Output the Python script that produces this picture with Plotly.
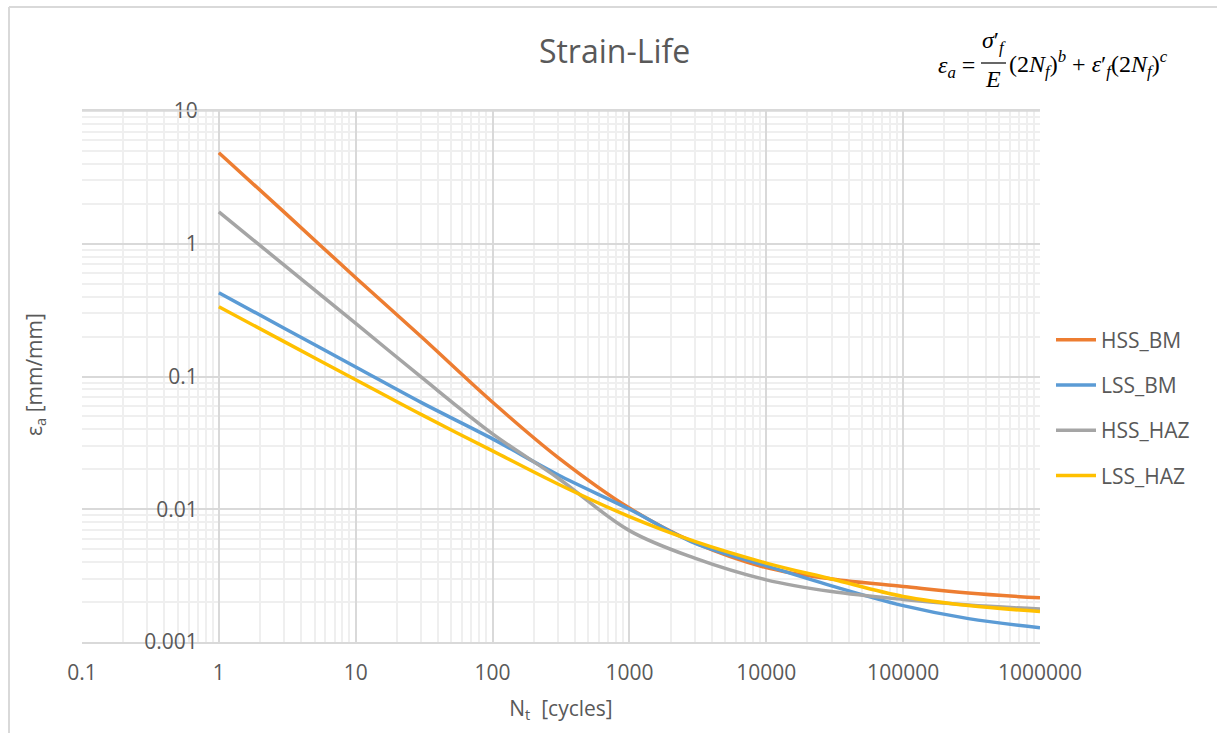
import plotly.graph_objects as go

# ---- data ----
cycles = [1, 3, 10, 30, 100, 300, 1000, 3000, 10000, 30000, 100000, 300000, 1000000]
hss_bm = [4.85, 1.73, 0.555, 0.20, 0.064, 0.0246, 0.0102, 0.0056, 0.00363, 0.00298, 0.00262, 0.00234, 0.00215]
lss_bm = [0.428, 0.231, 0.118, 0.0638, 0.0339, 0.0182, 0.0100, 0.00556, 0.00375, 0.00265, 0.00188, 0.0015, 0.00128]
hss_haz = [1.74, 0.69, 0.251, 0.0993, 0.037, 0.0172, 0.0069, 0.00428, 0.00294, 0.0024, 0.00209, 0.0019, 0.00177]
lss_haz = [0.335, 0.183, 0.0946, 0.0518, 0.0275, 0.0155, 0.0088, 0.00572, 0.00393, 0.00298, 0.0022, 0.00188, 0.0017]

series_names = ["HSS_BM", "LSS_BM", "HSS_HAZ", "LSS_HAZ"]
series_values = [hss_bm, lss_bm, hss_haz, lss_haz]
series_colors = ["#ED7D31", "#5B9BD5", "#A5A5A5", "#FFC000"]

x_tickvals = [0.1, 1, 10, 100, 1000, 10000, 100000, 1000000]
x_ticktext = ["0.1", "1", "10", "100", "1000", "10000", "100000", "1000000"]
y_tickvals = [0.001, 0.01, 0.1, 1, 10]
y_ticktext = ["0.001", "0.01", "0.1", "1", "10"]

W, H = 1217, 733
L, R, T, B = 82, 177, 111, 91
TXT = "#595959"
FONT = "Open Sans"


def px(x):
    return (x - L) / (W - L - R)


def py(y):
    return (H - B - y) / (H - T - B)


fig = go.Figure()
for name, vals, col in zip(series_names, series_values, series_colors):
    fig.add_trace(go.Scatter(
        x=cycles, y=vals, name=name, mode="lines",
        line=dict(color=col, width=3.5, shape="spline", smoothing=1.0),
        legendgroup=name,
    ))

grid_major = "#d9d9d9"
grid_minor = "#efefef"

fig.update_layout(
    width=W, height=H,
    margin=dict(l=L, r=R, t=T, b=B, pad=0),
    paper_bgcolor="white", plot_bgcolor="white",
    font=dict(family=FONT, size=21, color=TXT),
    title=dict(text="Strain-Life", xref="container", x=0.505, xanchor="center",
               yref="container", y=1 - 52 / H, yanchor="middle",
               font=dict(size=32, color=TXT, family=FONT)),
    showlegend=True,
    legend=dict(x=px(1051), xanchor="left", y=py(408), yanchor="middle",
                font=dict(size=21, color=TXT, family=FONT),
                tracegroupgap=15, traceorder="grouped",
                bgcolor="rgba(0,0,0,0)", itemwidth=40),
    xaxis=dict(type="log", range=[-1, 6], tickmode="array",
               tickvals=x_tickvals, ticktext=x_ticktext,
               showgrid=True, gridcolor=grid_major, gridwidth=1.5,
               minor=dict(dtick="D1", showgrid=True, gridcolor=grid_minor, gridwidth=1.5, ticks=""),
               showline=True, linecolor=grid_major, linewidth=1.5, mirror=True,
               ticks="", ticklabelstandoff=11, zeroline=False,
               tickfont=dict(size=21, color=TXT, family=FONT),
               title=dict(text="N<sub>t</sub>  [cycles]", standoff=16,
                          font=dict(size=21, color=TXT, family=FONT))),
    yaxis=dict(type="log", range=[-3, 1], tickmode="array",
               tickvals=y_tickvals, ticktext=y_ticktext,
               anchor="free", position=1 / 7, side="left",
               showgrid=True, gridcolor=grid_major, gridwidth=1.5,
               minor=dict(dtick="D1", showgrid=True, gridcolor=grid_minor, gridwidth=1.5, ticks=""),
               showline=False, ticks="", ticklabelstandoff=21, zeroline=False,
               tickfont=dict(size=21, color=TXT, family=FONT)),
)

# y axis title (placed at far left like the reference)
fig.add_annotation(text="ε<sub>a</sub> [mm/mm]", xref="paper", yref="paper",
                   x=px(35), y=py(375), textangle=-90, showarrow=False,
                   xanchor="center", yanchor="middle",
                   font=dict(size=21, color=TXT, family=FONT))

# top edge grid line of plot area
fig.add_shape(type="line", xref="paper", yref="paper", x0=0, x1=1, y0=1, y1=1,
              line=dict(color=grid_major, width=1.5))

# chart frame (left and top edges)
fig.add_shape(type="line", xref="paper", yref="paper", x0=px(9), x1=px(1217), y0=py(7), y1=py(7),
              line=dict(color="#d9d9d9", width=2))
fig.add_shape(type="line", xref="paper", yref="paper", x0=px(9), x1=px(9), y0=py(7), y1=py(735),
              line=dict(color="#d9d9d9", width=2))

# equation
EQ_FONT = "Liberation Serif"
EQ_SIZE = 24
fig.add_annotation(text="<i>ε</i><sub><i>a</i></sub> =", xref="paper", yref="paper",
                   x=px(977), y=py(67), xanchor="right", yanchor="middle", showarrow=False,
                   font=dict(size=EQ_SIZE, color="black", family=EQ_FONT))
fig.add_annotation(text="<i>σ</i>′<sub><i>f</i></sub>", xref="paper", yref="paper",
                   x=px(994), y=py(42), xanchor="center", yanchor="middle", showarrow=False,
                   font=dict(size=EQ_SIZE, color="black", family=EQ_FONT))
fig.add_annotation(text="<i>E</i>", xref="paper", yref="paper",
                   x=px(993), y=py(79), xanchor="center", yanchor="middle", showarrow=False,
                   font=dict(size=EQ_SIZE, color="black", family=EQ_FONT))
fig.add_shape(type="line", xref="paper", yref="paper", x0=px(981), x1=px(1006), y0=py(63), y1=py(63),
              line=dict(color="black", width=1.2))
fig.add_annotation(text="(2<i>N</i><sub><i>f</i></sub>)<sup><i>b</i></sup> + <i>ε</i>′<sub><i>f</i></sub>(2<i>N</i><sub><i>f</i></sub>)<sup><i>c</i></sup>",
                   xref="paper", yref="paper",
                   x=px(1007), y=py(64), xanchor="left", yanchor="middle", showarrow=False,
                   font=dict(size=EQ_SIZE, color="black", family=EQ_FONT))

fig.write_html("out.html", config={"displayModeBar": False},
               post_script="document.body.style.margin='0px';")
